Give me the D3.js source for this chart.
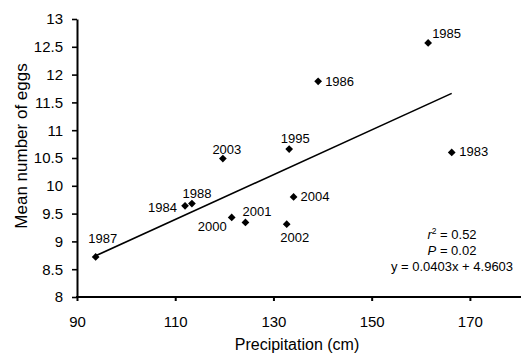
<!DOCTYPE html>
<html>
<head>
<meta charset="utf-8">
<script src="https://cdn.jsdelivr.net/npm/d3@7"></script>
<style>
  html, body { margin: 0; padding: 0; background: #fff; }
  svg { display: block; font-family: "Liberation Sans", Arial, sans-serif; }
</style>
</head>
<body>
<div id="chart"></div>
<script>
// data
const years = ['1987', '1984', '1988', '2003', '2000', '2001', '1995', '2002', '2004', '1986', '1985', '1983'];
const precipitation = [93.8, 112.0, 113.4, 119.7, 121.5, 124.3, 133.2, 132.7, 134.1, 139.1, 161.5, 166.3];
const meanEggs = [8.72, 9.64, 9.68, 10.49, 9.43, 9.34, 10.66, 9.31, 9.80, 11.88, 12.57, 10.60];
const xTicks = [90, 110, 130, 150, 170];
const yTicks = [8, 8.5, 9, 9.5, 10, 10.5, 11, 11.5, 12, 12.5, 13];
const slope = 0.0403, intercept = 4.9603;

// label placement per year: [anchor, dx, dy]
const labelOffsets = {
  '1987': ['middle', 7, -14],
  '1984': ['end', -8, 6],
  '1988': ['middle', 5, -6],
  '2003': ['middle', 4, -5],
  '2000': ['end', -5, 14],
  '2001': ['start', -3, -6],
  '1995': ['middle', 6, -6.5],
  '2002': ['middle', 8, 18],
  '2004': ['start', 7, 4.5],
  '1986': ['start', 7, 4.5],
  '1985': ['start', 4, -5],
  '1983': ['start', 7.5, 4]
};

const width = 522, height = 355;
const svg = d3.select('#chart').append('svg')
  .attr('width', width)
  .attr('height', height);

const x = d3.scaleLinear().domain([90, 180]).range([77, 519]);
const y = d3.scaleLinear().domain([8, 13]).range([297, 19]);

// axes
const xAxis = svg.append('g')
  .attr('transform', `translate(0,${y(8)})`)
  .call(d3.axisBottom(x).tickValues(xTicks).tickSize(4).tickPadding(15).tickSizeOuter(0));
xAxis.select('.domain').attr('stroke-width', 2).attr('d', `M${x(90) - 1},0H${x(180) + 2}`);
xAxis.selectAll('.tick line').attr('stroke-width', 2);
xAxis.selectAll('text').attr('font-size', 15).attr('fill', '#000');

const yAxis = svg.append('g')
  .attr('transform', `translate(${x(90)},0)`)
  .call(d3.axisLeft(y).tickValues(yTicks).tickFormat(d => String(d)).tickSize(5).tickPadding(9).tickSizeOuter(0));
yAxis.select('.domain').attr('stroke-width', 2);
yAxis.selectAll('.tick line').attr('stroke-width', 1.6);
yAxis.selectAll('text').attr('font-size', 15).attr('fill', '#000');

// axis titles
svg.append('text')
  .attr('x', 297).attr('y', 350)
  .attr('text-anchor', 'middle')
  .attr('font-size', 16)
  .text('Precipitation (cm)');

svg.append('text')
  .attr('transform', `translate(27,146) rotate(-90)`)
  .attr('text-anchor', 'middle')
  .attr('font-size', 17)
  .text('Mean number of eggs');

// regression line
const xMin = d3.min(precipitation), xMax = d3.max(precipitation);
svg.append('line')
  .attr('x1', x(xMin)).attr('y1', y(slope * xMin + intercept))
  .attr('x2', x(xMax)).attr('y2', y(slope * xMax + intercept))
  .attr('stroke', '#000')
  .attr('stroke-width', 1.6);

// points
const pts = years.map((yr, i) => ({ year: yr, px: precipitation[i], eggs: meanEggs[i] }));
const diamond = d3.symbol().type(d3.symbolSquare).size(30);

svg.selectAll('path.pt')
  .data(pts)
  .enter()
  .append('path')
  .attr('class', 'pt')
  .attr('d', diamond)
  .attr('transform', d => `translate(${x(d.px)},${y(d.eggs)}) rotate(45)`)
  .attr('fill', '#000');

svg.selectAll('text.lbl')
  .data(pts)
  .enter()
  .append('text')
  .attr('class', 'lbl')
  .attr('x', d => x(d.px) + labelOffsets[d.year][1])
  .attr('y', d => y(d.eggs) + labelOffsets[d.year][2])
  .attr('text-anchor', d => labelOffsets[d.year][0])
  .attr('font-size', 13)
  .text(d => d.year);

// stats
const stats = svg.append('g').attr('font-size', 13).attr('text-anchor', 'middle');
const r2 = stats.append('text').attr('x', 452).attr('y', 239);
r2.append('tspan').attr('font-style', 'italic').text('r');
r2.append('tspan').attr('font-size', 8.5).attr('dy', -5).text('2');
r2.append('tspan').attr('dy', 5).text(' = 0.52');

const pLine = stats.append('text').attr('x', 452).attr('y', 254.5);
pLine.append('tspan').attr('font-style', 'italic').text('P');
pLine.append('tspan').text(' = 0.02');

stats.append('text').attr('x', 452).attr('y', 270.5)
  .text(`y = ${slope}x + ${intercept}`);
</script>
</body>
</html>
